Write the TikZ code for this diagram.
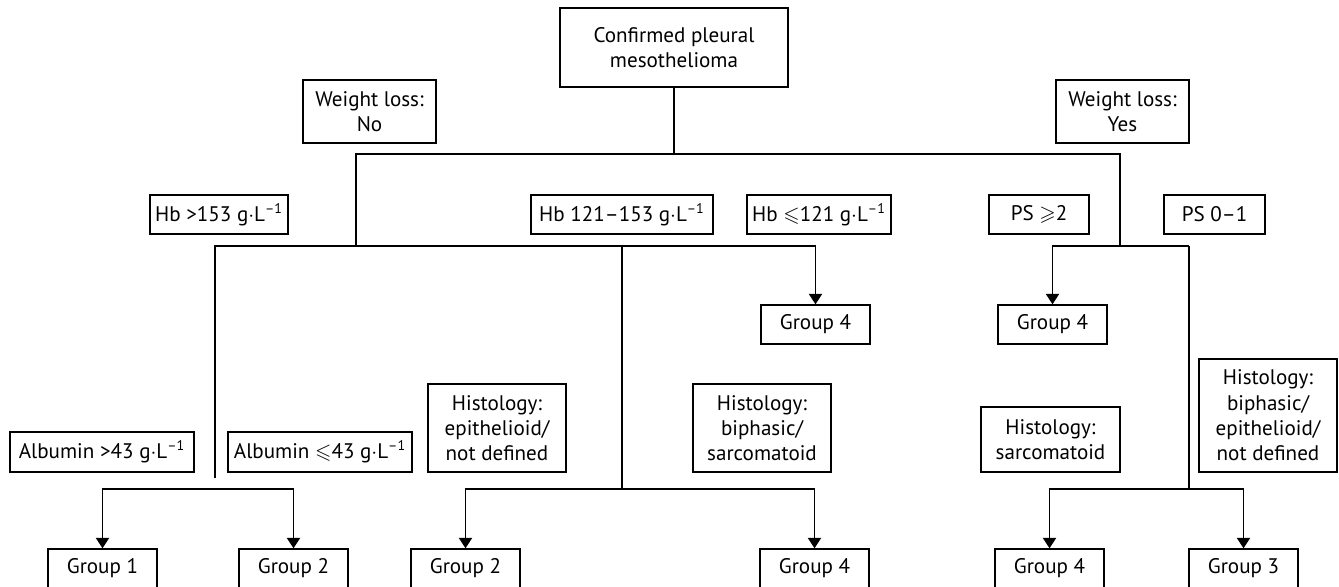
\documentclass[tikz,border=0pt]{standalone}
\usepackage{amssymb}
\usepackage{fontspec}
\setmainfont{PT Sans}
\usetikzlibrary{arrows.meta}
\tikzset{>={Triangle[length=6pt,width=7.6pt]}}
\newcommand{\gpl}{g$\cdot$L\textsuperscript{–1}}

\begin{document}
\begin{tikzpicture}[x=0.02cm,y=-0.02cm,line width=0.8pt,
    box/.style={draw,align=center,inner sep=0pt,font=\fontsize{12}{14.4}\selectfont},
    lbl/.style={box,minimum height=39*0.02cm},
    grp/.style={box,minimum width=109*0.02cm,minimum height=39*0.02cm}]
  \useasboundingbox (0,0) rectangle (1339,587);
  \node[box,minimum width=228*0.02cm,minimum height=79*0.02cm] (top) at (674,47.5) {Confirmed pleural\\mesothelioma};
  \node[box,minimum width=133*0.02cm,minimum height=63*0.02cm] (wlno) at (369.5,111.5) {Weight loss:\\No};
  \node[box,minimum width=133*0.02cm,minimum height=63*0.02cm] (wlyes) at (1122.5,111.5) {Weight loss:\\Yes};
  \node[lbl,minimum width=138*0.02cm] (hbhi) at (219,214.5) {Hb >153 \gpl};
  \node[lbl,minimum width=182*0.02cm] (hbmid) at (622,214.5) {Hb 121–153 \gpl};
  \node[lbl,minimum width=144*0.02cm] (hblo) at (819,214.5) {Hb $\leqslant$121 \gpl};
  \node[lbl,minimum width=100*0.02cm] (pshi) at (1039,214.5) {PS $\geqslant$2};
  \node[lbl,minimum width=101*0.02cm] (pslo) at (1214.5,214.5) {PS 0–1};
  \node[grp] (g4a) at (815.5,324.5) {Group 4};
  \node[grp] (g4b) at (1052.5,324.5) {Group 4};
  \node[lbl,minimum width=184*0.02cm,minimum height=40*0.02cm] (albhi) at (102,452) {Albumin >43 \gpl};
  \node[lbl,minimum width=184*0.02cm,minimum height=40*0.02cm] (alblo) at (320,452) {Albumin $\leqslant$43 \gpl};
  \node[box,minimum width=138*0.02cm,minimum height=88*0.02cm] (histepi) at (497,428) {Histology:\\epithelioid/\\not defined};
  \node[box,minimum width=138*0.02cm,minimum height=88*0.02cm] (histbs) at (762,428) {Histology:\\biphasic/\\sarcomatoid};
  \node[box,minimum width=139*0.02cm,minimum height=65*0.02cm] (histsar) at (1050.5,439.5) {Histology:\\sarcomatoid};
  \node[box,minimum width=138*0.02cm,minimum height=113*0.02cm] (histall) at (1268,415.5) {Histology:\\biphasic/\\epithelioid/\\not defined};
  \node[grp] (g1) at (102.5,568.5) {Group 1};
  \node[grp] (g2a) at (293.5,568.5) {Group 2};
  \node[grp] (g2b) at (465.5,568.5) {Group 2};
  \node[grp] (g4c) at (814.5,568.5) {Group 4};
  \node[grp] (g4d) at (1049.5,568.5) {Group 4};
  \node[grp] (g3) at (1243.5,568.5) {Group 3};
  \coordinate (jroot) at (674,154);
  \coordinate (jno) at (356,246);
  \coordinate (jyes) at (1120,154);
  \coordinate (jyes2) at (1120,246);
  \coordinate (lcut) at (215,478);
  \coordinate (jmid) at (622,246);
  \coordinate (jmid2) at (622,489);
  \coordinate (jalb) at (198.5,489);
  \coordinate (jps) at (1189,246);
  \coordinate (jps2) at (1189,489);
  \draw (top) -- (jroot);
  \draw (jno) |- (jyes) -- (jyes2);
  \draw[->] (lcut) |- (jno) -| (g4a.north);
  \draw (jmid) -- (jmid2);
  \draw[->] (jmid2) -| (g2b.north);
  \draw[->] (jmid2) -| (g4c.north);
  \draw[->] (jalb) -| (g1.north);
  \draw[->] (jalb) -| (g2a.north);
  \draw[->] (jps) -| (g4b.north);
  \draw (jps) -- (jps2);
  \draw[->] (jps2) -| (g4d.north);
  \draw[->] (jps2) -| (g3.north);
\end{tikzpicture}
\end{document}
